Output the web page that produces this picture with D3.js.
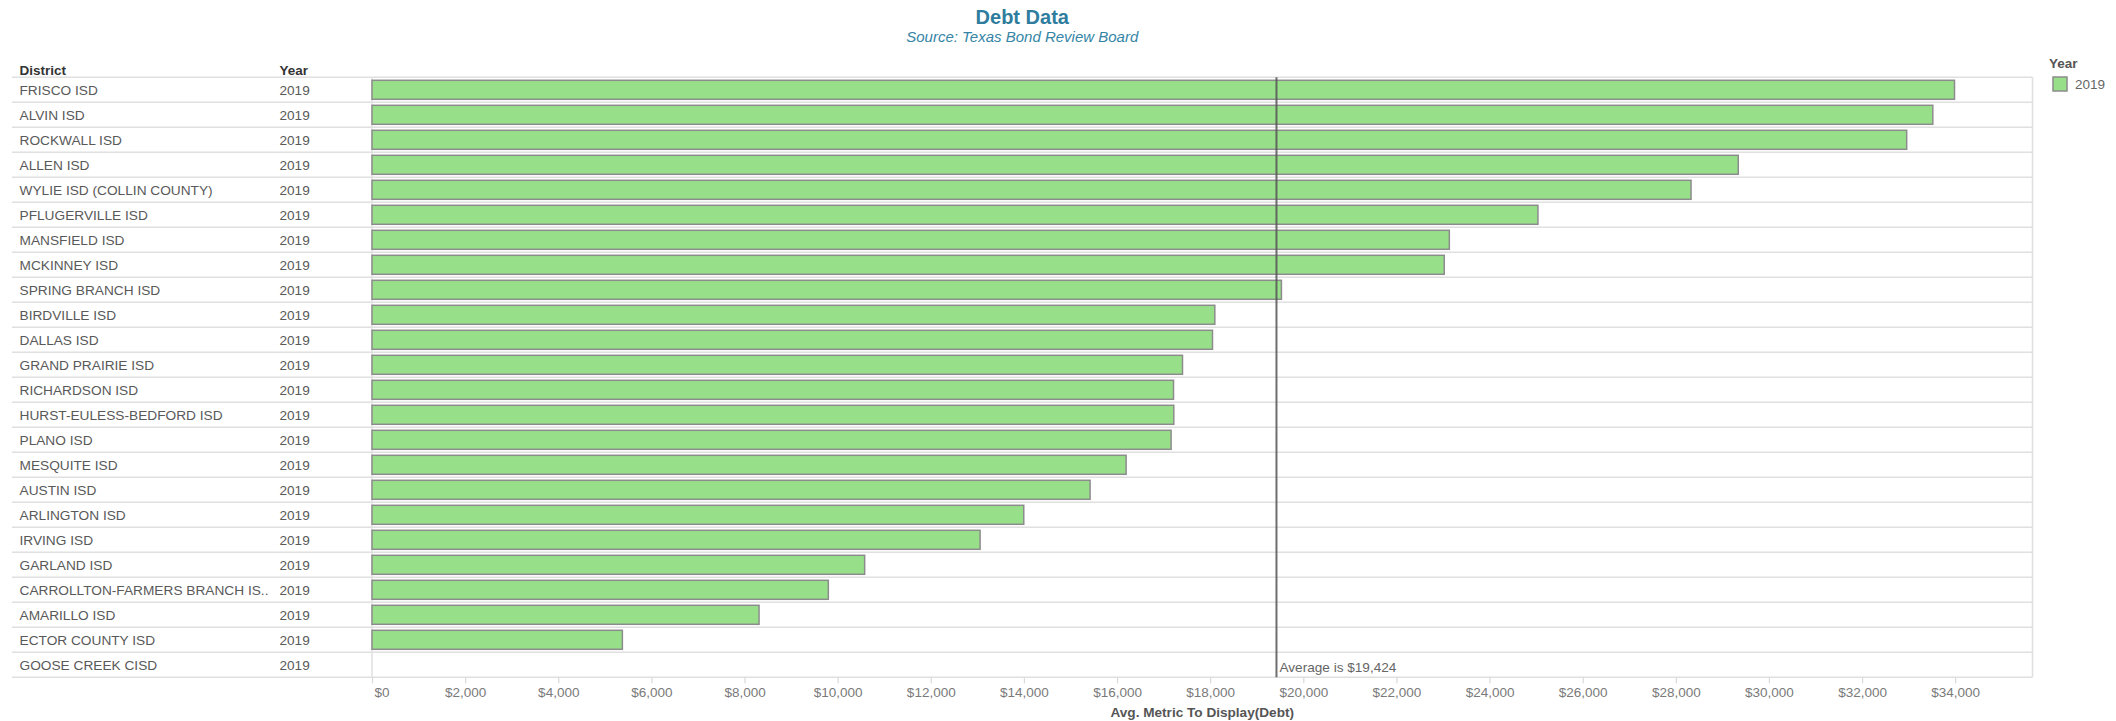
<!DOCTYPE html>
<html lang="en">
	<head>
		<meta charset="utf-8">
		<title>Debt Data</title>
		<script type="text/javascript" src="https://cdnjs.cloudflare.com/ajax/libs/d3/7.8.5/d3.min.js"></script>
		<style type="text/css">
			body { margin: 0; background: #fff; }
			text { font-family: "Liberation Sans", Arial, sans-serif; }
		</style>
	</head>
	<body>
		<script type="text/javascript">

			//Width and height
			var w = 2116;
			var h = 721;

			// data
			var districts = ["FRISCO ISD", "ALVIN ISD", "ROCKWALL ISD", "ALLEN ISD", "WYLIE ISD (COLLIN COUNTY)",
				"PFLUGERVILLE ISD", "MANSFIELD ISD", "MCKINNEY ISD", "SPRING BRANCH ISD", "BIRDVILLE ISD",
				"DALLAS ISD", "GRAND PRAIRIE ISD", "RICHARDSON ISD", "HURST-EULESS-BEDFORD ISD", "PLANO ISD",
				"MESQUITE ISD", "AUSTIN ISD", "ARLINGTON ISD", "IRVING ISD", "GARLAND ISD",
				"CARROLLTON-FARMERS BRANCH ISD", "AMARILLO ISD", "ECTOR COUNTY ISD", "GOOSE CREEK CISD"];
			var years = ["2019", "2019", "2019", "2019", "2019", "2019", "2019", "2019", "2019", "2019", "2019", "2019",
				"2019", "2019", "2019", "2019", "2019", "2019", "2019", "2019", "2019", "2019", "2019", "2019"];
			var debt = [33985, 33519, 32958, 29341, 28327, 25039, 23136, 23027, 19530, 18100,
				18050, 17406, 17213, 17219, 17161, 16195, 15421, 13997, 13059, 10580,
				9800, 8312, 5377, null];
			var xTicks = [0, 2000, 4000, 6000, 8000, 10000, 12000, 14000, 16000, 18000,
				20000, 22000, 24000, 26000, 28000, 30000, 32000, 34000];
			var legendYears = ["2019"];

			var tableLeft = 12, plotLeft = 372, plotRight = 2032.5;
			var plotTop = 77.3, plotBottom = 677.3;

			var dataset = districts.map(function(d, i) {
				return { district: d, year: years[i], value: debt[i] };
			});

			var svg = d3.select("body")
				.append("svg")
				.attr("width", w)
				.attr("height", h);

			var xScale = d3.scaleLinear()
				.domain([0, 35660])
				.range([plotLeft, plotRight]);

			var yScale = d3.scaleBand()
				.domain(districts)
				.range([plotTop, plotBottom])
				.paddingInner(0.24)
				.paddingOuter(0.12);

			var step = yScale.step();

			// title
			svg.append("text")
				.attr("x", (tableLeft + plotRight) / 2)
				.attr("y", 24)
				.attr("text-anchor", "middle")
				.style("font-size", "20px")
				.style("font-weight", "bold")
				.style("fill", "#2f7d9e")
				.text("Debt Data");

			svg.append("text")
				.attr("x", (tableLeft + plotRight) / 2)
				.attr("y", 41.5)
				.attr("text-anchor", "middle")
				.style("font-size", "15px")
				.style("font-style", "italic")
				.style("fill", "#3585a6")
				.text("Source: Texas Bond Review Board");

			// column headers
			svg.append("text")
				.attr("x", 19.5).attr("y", 74.5)
				.style("font-size", "13.5px").style("font-weight", "bold").style("fill", "#333")
				.text("District");
			svg.append("text")
				.attr("x", 279.5).attr("y", 74.5)
				.style("font-size", "13.5px").style("font-weight", "bold").style("fill", "#333")
				.text("Year");

			// row lines
			var lines = d3.range(districts.length + 1);
			svg.selectAll("line.row")
				.data(lines)
				.enter()
				.append("line")
				.attr("class", "row")
				.attr("x1", tableLeft)
				.attr("x2", plotRight)
				.attr("y1", function(d) { return plotTop + d * step; })
				.attr("y2", function(d) { return plotTop + d * step; })
				.attr("stroke", "#e0e0e0")
				.attr("stroke-width", 1.5);

			// plot borders
			svg.append("line")
				.attr("x1", plotLeft).attr("x2", plotLeft)
				.attr("y1", plotTop).attr("y2", plotBottom)
				.attr("stroke", "#e0e0e0").attr("stroke-width", 1.5);
			svg.append("line")
				.attr("x1", plotRight).attr("x2", plotRight)
				.attr("y1", plotTop).attr("y2", plotBottom)
				.attr("stroke", "#e0e0e0").attr("stroke-width", 1.5);

			// row text
			var rowText = svg.selectAll("text.district")
				.data(dataset)
				.enter()
				.append("text")
				.attr("class", "district")
				.attr("x", 19.5)
				.attr("y", function(d) { return yScale(d.district) + yScale.bandwidth() / 2 + 4.8; })
				.style("font-size", "13.7px")
				.style("fill", "#595959")
				.text(function(d) { return d.district; });

			// truncate long names like Tableau does
			rowText.each(function() {
				var t = d3.select(this);
				var s = t.text();
				if (this.getComputedTextLength() > 246) {
					s = s.slice(0, -1);
					t.text(s + "..");
					while (s.length > 0 && this.getComputedTextLength() > 254) {
						s = s.slice(0, -1);
						t.text(s + "..");
					}
				}
			});

			svg.selectAll("text.year")
				.data(dataset)
				.enter()
				.append("text")
				.attr("class", "year")
				.attr("x", 279.5)
				.attr("y", function(d) { return yScale(d.district) + yScale.bandwidth() / 2 + 4.8; })
				.style("font-size", "13.6px")
				.style("fill", "#595959")
				.text(function(d) { return d.year; });

			// bars
			svg.selectAll("rect.bar")
				.data(dataset.filter(function(d) { return d.value != null; }))
				.enter()
				.append("rect")
				.attr("class", "bar")
				.attr("x", xScale(0))
				.attr("y", function(d) { return yScale(d.district); })
				.attr("width", function(d) { return xScale(d.value) - xScale(0); })
				.attr("height", yScale.bandwidth())
				.attr("fill", "#98df8a")
				.attr("stroke", "#8c8c8c")
				.attr("stroke-width", 1.5);

			// average reference line
			var avg = d3.mean(debt);
			svg.append("line")
				.attr("x1", xScale(avg)).attr("x2", xScale(avg))
				.attr("y1", plotTop).attr("y2", plotBottom)
				.attr("stroke", "#555")
				.attr("stroke-opacity", 0.85)
				.attr("stroke-width", 2);
			svg.append("text")
				.attr("x", xScale(avg) + 3)
				.attr("y", plotBottom - 5)
				.style("font-size", "13.6px")
				.style("fill", "#666")
				.text("Average is " + d3.format("$,.0f")(avg));

			// x axis
			var xAxis = d3.axisBottom()
				.scale(xScale)
				.tickValues(xTicks)
				.tickSize(6)
				.tickFormat(d3.format("$,"));

			var gx = svg.append("g")
				.attr("class", "axis")
				.attr("transform", "translate(0," + plotBottom + ")")
				.call(xAxis);
			gx.select(".domain").remove();
			gx.selectAll(".tick line").attr("stroke", "#d9d9d9").attr("stroke-width", 1.2);
			gx.selectAll(".tick text")
				.attr("y", 10.5)
				.style("font-family", "'Liberation Sans', Arial, sans-serif")
				.style("font-size", "13.5px")
				.style("fill", "#7a7a7a");
			gx.selectAll(".tick text")
				.filter(function(d) { return d === 0; })
				.attr("text-anchor", "start")
				.attr("dx", 2);

			svg.append("text")
				.attr("x", (plotLeft + plotRight) / 2)
				.attr("y", 716.5)
				.attr("text-anchor", "middle")
				.style("font-size", "13.6px")
				.style("font-weight", "bold")
				.style("fill", "#555")
				.text("Avg. Metric To Display(Debt)");

			// legend
			svg.append("text")
				.attr("x", 2049).attr("y", 68)
				.style("font-size", "13.5px").style("font-weight", "bold").style("fill", "#555")
				.text("Year");
			var lg = svg.selectAll("g.legend")
				.data(legendYears)
				.enter()
				.append("g")
				.attr("class", "legend")
				.attr("transform", function(d, i) { return "translate(2053," + (77 + i * 20) + ")"; });
			lg.append("rect")
				.attr("width", 14).attr("height", 14)
				.attr("fill", "#98df8a").attr("stroke", "#8c8c8c").attr("stroke-width", 1.5);
			lg.append("text")
				.attr("x", 22).attr("y", 12)
				.style("font-size", "13.5px").style("fill", "#666")
				.text(function(d) { return d; });

		</script>
	</body>
</html>
